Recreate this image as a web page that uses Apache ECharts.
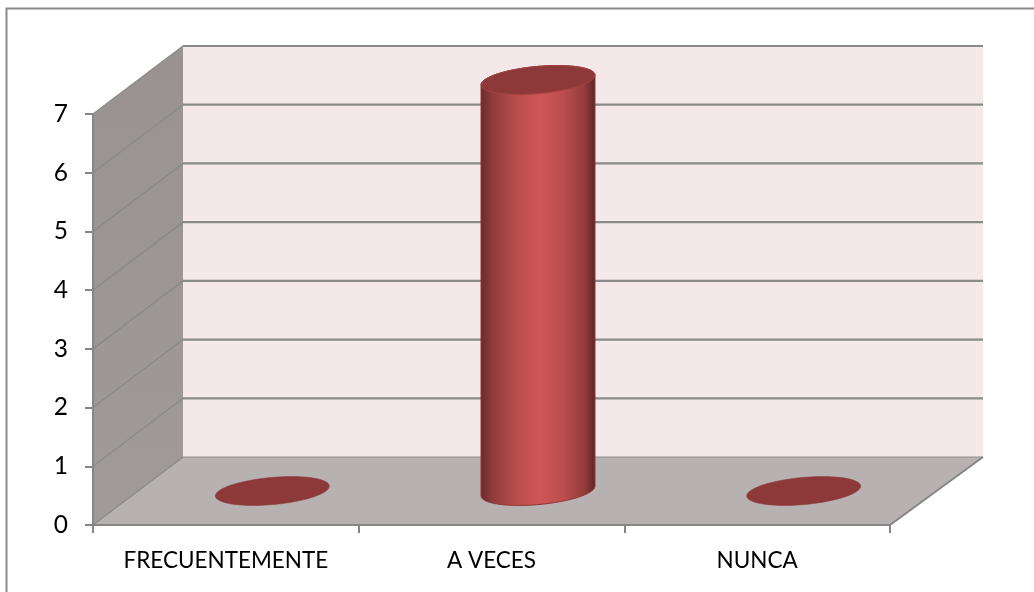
<!DOCTYPE html>
<html>
<head>
<meta charset="utf-8">
<style>html,body{margin:0;padding:0;background:#fff;overflow:hidden}#c{width:1034px;height:592px}</style>
<script src="https://cdn.jsdelivr.net/npm/echarts@6/dist/echarts.min.js"></script>
</head>
<body>
<div id="c"></div>
<script>
const categories = ['FRECUENTEMENTE', 'A VECES', 'NUNCA'];
const values = [0, 7, 0];
const yTicks = [0, 1, 2, 3, 4, 5, 6, 7];

const DEPTH_X = 90, DEPTH_X_RIGHT = 93, DEPTH_Y = -68; // oblique depth of the 3D box
const MID_DEPTH_X = 46.5;               // horizontal shift of the cylinder axis
const RADIUS_RATIO = 0.202;             // cylinder radius / category width
const RADIUS_DEPTH = 0.213;             // cylinder radius / box depth
const AXIS = '#868686';

function wallsItem(params, api) {
  const cs = params.coordSys;
  const x0 = cs.x, x1 = cs.x + cs.width;
  const yb = api.coord([0, 0])[1], yt = api.coord([0, 7])[1];
  const dx = DEPTH_X, dxr = DEPTH_X_RIGHT, dy = DEPTH_Y;
  const children = [];
  const poly = (pts, fill) => children.push({type: 'polygon', shape: {points: pts}, style: {fill: fill}});
  const line = (a, b, c, w) => children.push({type: 'line', shape: {x1: a[0], y1: a[1], x2: b[0], y2: b[1]}, style: {stroke: c, lineWidth: w}});
  poly([[x0, yb], [x0 + dx, yb + dy], [x0 + dx, yt + dy], [x0, yt]],
    {type: 'linear', x: 0, y: 0, x2: 0, y2: 1, colorStops: [{offset: 0, color: '#989291'}, {offset: 1, color: '#a09a99'}]});
  poly([[x0 + dx, yb + dy], [x1 + dxr, yb + dy], [x1 + dxr, yt + dy], [x0 + dx, yt + dy]], '#f4e8e8');
  poly([[x0, yb], [x1, yb], [x1 + dxr, yb + dy], [x0 + dx, yb + dy]], '#b8b1b1');
  yTicks.forEach(t => {
    const y = api.coord([0, t])[1];
    line([x0, y], [x0 + dx, y + dy], '#878c89', 1.3);
    line([x0 + dx, y + dy], [x1 + dxr, y + dy], t === 0 ? '#8f8f8f' : '#8a8a8a', t === 0 ? 1.2 : 2.2);
  });
  line([x1, yb], [x1 + dxr, yb + dy], AXIS, 2);
  return {type: 'group', children: children};
}

function ellipsePoints(c, rx, ddx, ddy, from, to, n) {
  const pts = [];
  for (let i = 0; i <= n; i++) {
    const t = from + (to - from) * i / n;
    pts.push([c[0] + rx * Math.cos(t) + ddx * Math.sin(t), c[1] + ddy * Math.sin(t)]);
  }
  return pts;
}

function cylinderItem(params, api) {
  const cat = api.value(0), val = api.value(1);
  const base = api.coord([cat, 0]), top = api.coord([cat, val]);
  const rx = api.size([1, 0])[0] * RADIUS_RATIO;
  const ddx = DEPTH_X * RADIUS_DEPTH, ddy = DEPTH_Y * RADIUS_DEPTH;
  const b = [base[0] + MID_DEPTH_X, base[1] + DEPTH_Y / 2];
  const t = [top[0] + MID_DEPTH_X, top[1] + DEPTH_Y / 2];
  const children = [];
  if (val > 0) {
    const t0 = Math.atan2(ddx, rx);                 // silhouette angle (right extreme)
    // right extreme -> front arc of the base -> left extreme, then back arc of the top
    const arc = ellipsePoints(b, rx, ddx, ddy, t0, t0 - Math.PI, 60);
    const tr = ellipsePoints(t, rx, ddx, ddy, t0 + Math.PI, t0, 60);
    children.push({
      type: 'polygon',
      shape: {points: arc.concat(tr)},
      style: {
        fill: {type: 'linear', x: 0, y: 0, x2: 1, y2: 0, colorStops: [
          {offset: 0, color: '#6b2a2a'},
          {offset: 0.1, color: '#8f3b3b'},
          {offset: 0.3, color: '#b84c4c'},
          {offset: 0.52, color: '#ce5656'},
          {offset: 0.72, color: '#bb4d4d'},
          {offset: 0.9, color: '#943d3d'},
          {offset: 1, color: '#5e2424'}
        ]},
        stroke: '#8f3838', lineWidth: 1
      }
    });
  }
  children.push({
    type: 'polygon',
    shape: {points: ellipsePoints(t, rx, ddx, ddy, 0, Math.PI * 2, 90)},
    style: {fill: '#8e3939', stroke: val > 0 ? '#a54343' : '#8e3939', lineWidth: val > 0 ? 1 : 0.5}
  });
  return {type: 'group', children: children};
}

const chart = echarts.init(document.getElementById('c'), null, {renderer: 'canvas'});
chart.setOption({
  animation: false,
  backgroundColor: '#fff',
  textStyle: {fontFamily: 'Lato'},
  graphic: [{
    type: 'polyline', silent: true, z: 0,
    shape: {points: [[6.5, 592], [6.5, 8.5], [1034, 8.5]]},
    style: {stroke: '#8a8a8a', lineWidth: 2, fill: null}
  }],
  grid: {left: 93, right: 144, top: 114, bottom: 67, containLabel: false},
  xAxis: {
    type: 'category', data: categories, z: 5,
    axisLine: {show: true, lineStyle: {color: AXIS, width: 2}},
    axisTick: {show: true, alignWithLabel: false, length: 8, lineStyle: {color: AXIS, width: 2}},
    axisLabel: {color: '#000', fontSize: 22.5, fontFamily: 'Lato', margin: 24, interval: 0},
    splitLine: {show: false}
  },
  yAxis: {
    type: 'value', min: 0, max: 7, interval: 1, z: 5,
    axisLine: {show: true, lineStyle: {color: AXIS, width: 2}},
    axisTick: {show: true, length: 8, lineStyle: {color: AXIS, width: 2}},
    axisLabel: {color: '#000', fontSize: 24.5, fontFamily: 'Lato', margin: 25, padding: [4, 0, 0, 0]},
    splitLine: {show: false}
  },
  series: [
    {type: 'custom', z: 1, clip: false, silent: true, data: [[0, 0]], encode: {x: 0, y: 1}, renderItem: wallsItem},
    {type: 'custom', z: 2, clip: false, silent: true,
     data: values.map((v, i) => [i, v]), encode: {x: 0, y: 1}, renderItem: cylinderItem}
  ]
});
</script>
</body>
</html>
